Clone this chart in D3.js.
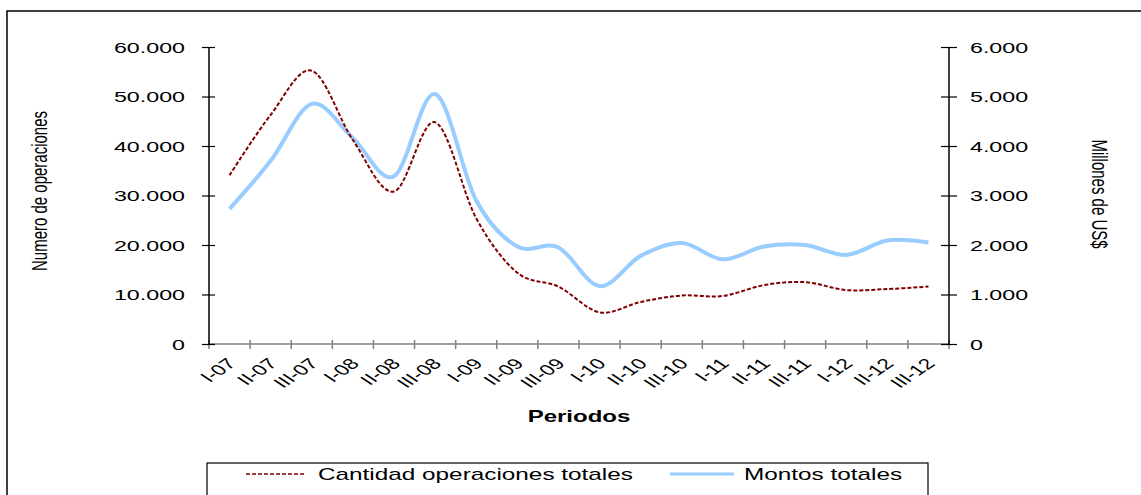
<!DOCTYPE html>
<html>
<head>
<meta charset="utf-8">
<script src="https://cdn.jsdelivr.net/npm/d3@7"></script>
<style>
  body { margin: 0; background: #fff; }
  svg { display: block; }
</style>
</head>
<body>
<div id="chart"></div>
<script>
// Periods (quarters I/II/III per year)
const periods = ['I-07', 'II-07', 'III-07', 'I-08', 'II-08', 'III-08', 'I-09', 'II-09', 'III-09',
  'I-10', 'II-10', 'III-10', 'I-11', 'II-11', 'III-11', 'I-12', 'II-12', 'III-12'];

// Cantidad operaciones totales (left axis)
const operaciones = [34100, 46300, 55200, 41200, 30800, 44800, 25400, 14400, 11600,
  6400, 8500, 9800, 9700, 11900, 12500, 10900, 11100, 11600];

// Montos totales, millones de US$ (right axis)
const montos = [2730, 3700, 4850, 4160, 3390, 5050, 2900, 1970, 1950,
  1170, 1780, 2040, 1710, 1970, 2000, 1800, 2090, 2050];

const leftTicks = [0, 10000, 20000, 30000, 40000, 50000, 60000];
const rightTicks = [0, 1000, 2000, 3000, 4000, 5000, 6000];

const width = 1141;
const height = 495;
const plot = { left: 209, right: 949, top: 47, bottom: 344 };
const font = '"Liberation Sans", Arial, Helvetica, sans-serif';

const fmt = d3.formatLocale({ decimal: ',', thousands: '.', grouping: [3], currency: ['$', ''] }).format(',');

const svg = d3.select('#chart')
  .append('svg')
  .attr('width', width)
  .attr('height', height)
  .style('font-family', font);

// outer frame (top and left edges visible)
svg.append('path')
  .attr('d', `M7,${height} V11 H${width}`)
  .attr('fill', 'none')
  .attr('stroke', '#000')
  .attr('stroke-width', 1.5);

const x = d3.scaleBand().domain(periods).range([plot.left, plot.right]);
const yLeft = d3.scaleLinear().domain([0, 60000]).range([plot.bottom, plot.top]);
const yRight = d3.scaleLinear().domain([0, 6000]).range([plot.bottom, plot.top]);
const cx = d => x(d) + x.bandwidth() / 2;

// the original picture is stretched horizontally, so text is too
function stretchText(sel, tx, ty, sx, rot) {
  sel.attr('transform', `translate(${tx},${ty}) scale(${sx},1)` + (rot ? ` rotate(${rot})` : ''));
}

// x axis
const xAxis = svg.append('g');
xAxis.append('line')
  .attr('x1', plot.left).attr('x2', plot.right)
  .attr('y1', plot.bottom).attr('y2', plot.bottom)
  .attr('stroke', '#808080').attr('stroke-width', 1.5);

xAxis.selectAll('line.tick')
  .data(d3.range(periods.length + 1))
  .join('line')
  .attr('class', 'tick')
  .attr('x1', i => plot.left + i * x.step())
  .attr('x2', i => plot.left + i * x.step())
  .attr('y1', plot.bottom - 4)
  .attr('y2', plot.bottom + 5)
  .attr('stroke', '#808080').attr('stroke-width', 1.5);

xAxis.selectAll('text')
  .data(periods)
  .join('text')
  .attr('text-anchor', 'end')
  .attr('dy', '0.35em')
  .style('font-size', '15px')
  .text(d => d)
  .each(function(d) { stretchText(d3.select(this), cx(d) + 2, 361, 1.5, -45); });

// left axis
const leftAxis = svg.append('g')
  .attr('transform', `translate(${plot.left},0)`)
  .call(d3.axisLeft(yLeft).tickValues(leftTicks).tickSize(7).tickSizeOuter(0).tickFormat(fmt));
leftAxis.select('.domain').attr('stroke', '#000').attr('stroke-width', 1.5)
  .attr('d', `M0,${plot.top}V${plot.bottom}`);
leftAxis.selectAll('.tick line').attr('x1', 6).attr('stroke', '#000').attr('stroke-width', 1.2);
leftAxis.selectAll('.tick text')
  .attr('x', 0)
  .attr('dy', '0.35em')
  .attr('fill', '#000')
  .style('font-size', '15px')
  .style('font-family', font)
  .each(function() { stretchText(d3.select(this), -24, 0, 1.55); });

// right axis
const rightAxis = svg.append('g')
  .attr('transform', `translate(${plot.right},0)`)
  .call(d3.axisRight(yRight).tickValues(rightTicks).tickSize(8).tickSizeOuter(0).tickFormat(fmt));
rightAxis.select('.domain').attr('stroke', '#000').attr('stroke-width', 1.5)
  .attr('d', `M0,${plot.top}V${plot.bottom}`);
rightAxis.selectAll('.tick line').attr('x1', -8).attr('stroke', '#000').attr('stroke-width', 1.2);
rightAxis.selectAll('.tick text')
  .attr('x', 0)
  .attr('dy', '0.35em')
  .attr('fill', '#000')
  .style('font-size', '15px')
  .style('font-family', font)
  .each(function() { stretchText(d3.select(this), 21, 0, 1.55); });

// axis titles
svg.append('text')
  .attr('text-anchor', 'middle')
  .attr('dy', '0.35em')
  .style('font-size', '15px')
  .text('Numero de operaciones')
  .call(s => stretchText(s, 39, 191, 1.5, -90));

svg.append('text')
  .attr('text-anchor', 'middle')
  .attr('dy', '0.35em')
  .style('font-size', '15px')
  .text('Millones de US$')
  .call(s => stretchText(s, 1100, 194, 1.5, 90));

svg.append('text')
  .attr('text-anchor', 'middle')
  .style('font-size', '16px')
  .style('font-weight', 'bold')
  .text('Periodos')
  .call(s => stretchText(s, (plot.left + plot.right) / 2, 422, 1.5));

// series
const curve = d3.curveCardinal.tension(0);

svg.append('path')
  .datum(montos)
  .attr('fill', 'none')
  .attr('stroke', '#99ccff')
  .attr('stroke-width', 4)
  .attr('d', d3.line().x((d, i) => cx(periods[i])).y(d => yRight(d)).curve(curve));

svg.append('path')
  .datum(operaciones)
  .attr('fill', 'none')
  .attr('stroke', '#800000')
  .attr('stroke-width', 2)
  .attr('stroke-dasharray', '4,2')
  .attr('d', d3.line().x((d, i) => cx(periods[i])).y(d => yLeft(d)).curve(curve));

// legend
const legend = svg.append('g');
legend.append('rect')
  .attr('x', 207).attr('y', 463)
  .attr('width', 721).attr('height', 60)
  .attr('fill', '#fff')
  .attr('stroke', '#000')
  .attr('stroke-width', 1.2);

const legendItems = [
  { label: 'Cantidad operaciones totales', x1: 246, x2: 305, tx: 318, color: '#800000', w: 1.5, dash: '4,2' },
  { label: 'Montos totales', x1: 670, x2: 734, tx: 744, color: '#99ccff', w: 3, dash: null }
];

legendItems.forEach(item => {
  legend.append('line')
    .attr('x1', item.x1).attr('x2', item.x2)
    .attr('y1', 474).attr('y2', 474)
    .attr('stroke', item.color)
    .attr('stroke-width', item.w)
    .attr('stroke-dasharray', item.dash);
  legend.append('text')
    .attr('dy', '0.35em')
    .style('font-size', '16px')
    .text(item.label)
    .call(s => stretchText(s, item.tx, 474, 1.52));
});
</script>
</body>
</html>
